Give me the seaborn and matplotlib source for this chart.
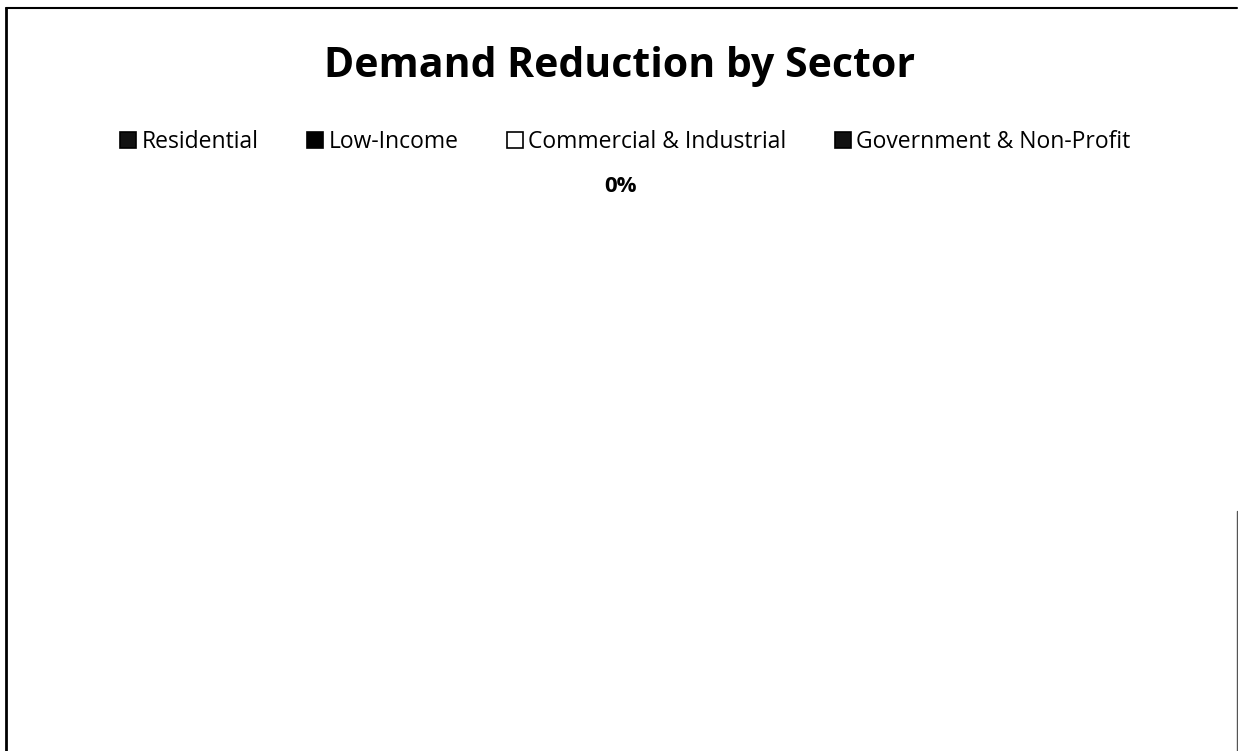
import matplotlib
matplotlib.use("Agg")
import matplotlib.pyplot as plt
from matplotlib.patches import Patch
from matplotlib.lines import Line2D
import seaborn as sns

sns.set_theme(style="white")
plt.rcParams['font.family'] = ['Open Sans', 'DejaVu Sans']
plt.rcParams['text.color'] = 'black'

sectors = ["Residential", "Low-Income", "Commercial & Industrial", "Government & Non-Profit"]
demand_reduction = [0, 0, 0, 0]
sector_colors = ["#111111", "#000000", "#ffffff", "#111111"]

fig = plt.figure(figsize=(12.38, 7.51), dpi=100)
fig.patch.set_facecolor("white")
ax = fig.add_axes([0.05, 0.02, 0.9, 0.72])
ax.set_axis_off()

total = sum(demand_reduction)
if total > 0:
    ax.pie(demand_reduction, colors=sector_colors, autopct="%1.0f%%",
           wedgeprops=dict(edgecolor="black"))
else:
    # No reduction recorded: the pie collapses to a single 0% label
    share = 0
    fig.text(0.501, 0.752, f"{share:.0f}%", ha="center", va="center",
             fontsize=16, fontweight="bold", color="black")

fig.text(0.5, 0.912, "Demand Reduction by Sector", ha="center", va="center",
         fontsize=29.5, fontweight="bold", color="black")

handles = [Patch(facecolor=c, edgecolor="black", linewidth=1.2) for c in sector_colors]
fig.legend(handles, sectors, loc="center", bbox_to_anchor=(0.505, 0.811), ncol=4,
           frameon=False, fontsize=16.5, handlelength=0.7, handleheight=0.7,
           handletextpad=0.25, columnspacing=2.1, labelcolor="black")

# Chart frame
fig.add_artist(Line2D([0.005, 0.005], [0.0, 0.99], color="black", lw=2.0,
                      transform=fig.transFigure))
fig.add_artist(Line2D([0.005, 0.999], [0.99, 0.99], color="black", lw=1.5,
                      transform=fig.transFigure))
fig.add_artist(Line2D([0.999, 0.999], [0.0, 0.32], color="#555555", lw=1.0,
                      transform=fig.transFigure))

fig.savefig("out.png", dpi=100, facecolor="white")
